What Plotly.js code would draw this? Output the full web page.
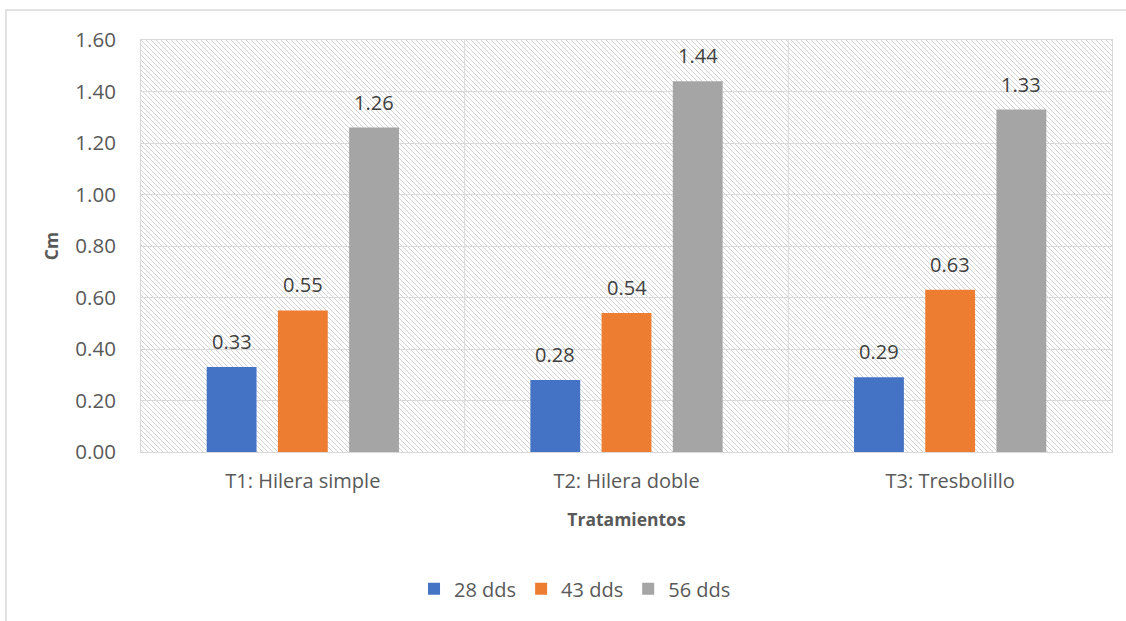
<!DOCTYPE html>
<html><head><meta charset="utf-8">
<script src="https://cdn.plot.ly/plotly-3.0.1.min.js"></script>
<style>html,body{margin:0;padding:0;background:#fff}#chart{width:1126px;height:621px}</style>
</head><body><div id="chart"></div>
<script>
const categories = ["T1: Hilera simple", "T2: Hilera doble", "T3: Tresbolillo"];
const seriesNames = ["28 dds", "43 dds", "56 dds"];
const values28 = [0.33, 0.28, 0.29];
const values43 = [0.55, 0.54, 0.63];
const values56 = [1.26, 1.44, 1.33];
const colors = ["#4472C4", "#ED7D31", "#A5A5A5"];
const yTicks = [0, 0.2, 0.4, 0.6, 0.8, 1.0, 1.2, 1.4, 1.6];

const FONT = "'Open Sans', sans-serif";
const all = [values28, values43, values56];
const traces = all.map((v, i) => ({
  type: "bar", x: categories, y: v, name: seriesNames[i],
  marker: {color: colors[i]}, hoverinfo: "none"
}));

const W = 1126, H = 621, L = 141, R = 14, T = 40, B = 169;
const pw = W - L - R, ph = H - T - B;
const BARGAP = 0.34;
const slot = (pw / categories.length) * (1 - BARGAP) / all.length;

const annotations = [];
all.forEach((v, i) => v.forEach((d, j) => annotations.push({
  x: categories[j], y: d, xref: "x", yref: "y", text: d.toFixed(2), showarrow: false,
  xanchor: "center", yanchor: "bottom", xshift: (i - (all.length - 1) / 2) * slot, yshift: 10,
  font: {family: FONT, size: 20, color: "#404040"}
})));

const svg = `<svg xmlns="http://www.w3.org/2000/svg" width="${pw}" height="${ph}"><defs><pattern id="p" width="5" height="5" patternUnits="userSpaceOnUse"><rect width="5" height="5" fill="#ffffff"/><path d="M-1,-1 L6,6 M-1,4 L1,6 M4,-1 L6,1" stroke="#d4d4d4" stroke-width="1"/></pattern></defs><rect width="${pw}" height="${ph}" fill="url(#p)"/></svg>`;
const img = "data:image/svg+xml;base64," + btoa(svg);

const layout = {
  width: W, height: H,
  margin: {l: L, r: R, t: T, b: B},
  paper_bgcolor: "#ffffff", plot_bgcolor: "rgba(0,0,0,0)",
  barmode: "group", bargap: BARGAP, bargroupgap: 0.3,
  font: {family: FONT, color: "#595959"},
  showlegend: true,
  legend: {orientation: "h", x: 0.447, xanchor: "center", y: -0.332, yanchor: "middle",
           font: {family: FONT, size: 20, color: "#595959"}, traceorder: "normal", itemwidth: 30},
  xaxis: {type: "category", showgrid: false, showline: true, mirror: true, linecolor: "#d9d9d9", linewidth: 1,
          tickfont: {family: FONT, size: 20, color: "#595959"}, ticks: "outside", ticklen: 11, tickcolor: "rgba(0,0,0,0)",
          title: {text: "<b>Tratamientos</b>", font: {family: FONT, size: 17.5, color: "#595959"}, standoff: 20},
          fixedrange: true},
  yaxis: {range: [0, 1.6], tickvals: yTicks, ticktext: yTicks.map(t => t.toFixed(2)),
          showgrid: true, gridcolor: "#d9d9d9", gridwidth: 1, zeroline: false,
          showline: true, mirror: true, linecolor: "#d9d9d9",
          tickfont: {family: FONT, size: 20.5, color: "#595959"}, ticks: "outside", ticklen: 20, tickcolor: "rgba(0,0,0,0)",
          title: {text: "<b>Cm</b>", font: {family: FONT, size: 17.5, color: "#595959"}, standoff: 12},
          fixedrange: true},
  annotations: annotations,
  images: [{source: img, xref: "paper", yref: "paper", x: 0, y: 1, sizex: 1, sizey: 1,
            xanchor: "left", yanchor: "top", sizing: "stretch", layer: "below"}],
  shapes: [
    {type: "line", xref: "x", yref: "paper", x0: 0.5, x1: 0.5, y0: 0, y1: 1, line: {color: "#d9d9d9", width: 1}, layer: "below"},
    {type: "line", xref: "x", yref: "paper", x0: 1.5, x1: 1.5, y0: 0, y1: 1, line: {color: "#d9d9d9", width: 1}, layer: "below"},
    {type: "rect", xref: "paper", yref: "paper",
     x0: (6 - L) / pw, x1: (W + 5 - L) / pw, y0: -(H + 5 - T - ph) / ph, y1: 1 + (T - 10) / ph,
     line: {color: "#d9d9d9", width: 1.5}, fillcolor: "rgba(0,0,0,0)"}
  ]
};
Plotly.newPlot("chart", traces, layout, {staticPlot: true, displayModeBar: false});
</script></body></html>
